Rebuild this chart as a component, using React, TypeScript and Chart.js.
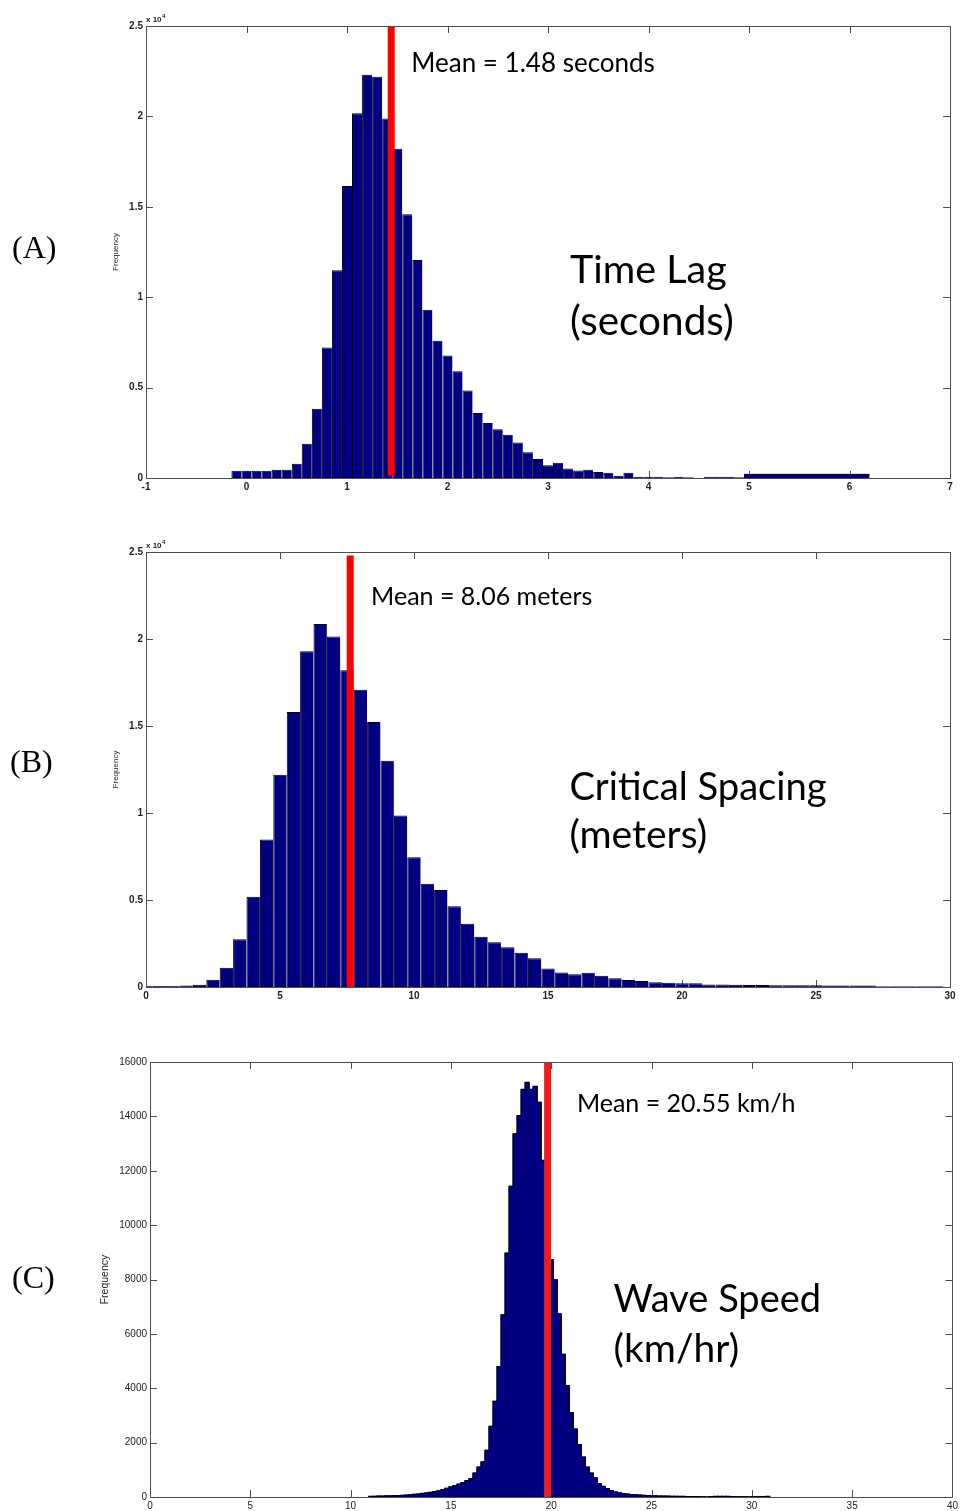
import React, { useEffect, useRef } from 'react';
import { Chart, registerables } from 'chart.js';

Chart.register(...registerables);

// ---------- Panel A: Time Lag (seconds) ----------
const lagBinCenters = [-0.1, 0.0, 0.1, 0.2, 0.3, 0.4, 0.5, 0.6, 0.7, 0.8, 0.9, 1.0, 1.1, 1.2, 1.3, 1.4, 1.5, 1.6, 1.7, 1.8, 1.9, 2.0, 2.1, 2.2, 2.3, 2.4, 2.5, 2.6, 2.7, 2.8, 2.9, 3.0, 3.1, 3.2, 3.3, 3.4, 3.5, 3.6, 3.7, 3.8, 3.9, 4.0, 4.1, 4.2, 4.3, 4.4, 4.5, 4.6, 4.7, 4.8, 4.9];
const lagCounts = [400, 400, 400, 400, 460, 460, 790, 1900, 3830, 7220, 11490, 16150, 20180, 22300, 22190, 19890, 18210, 14590, 12060, 9300, 7590, 6780, 5910, 4840, 3590, 3040, 2690, 2390, 1970, 1420, 1050, 700, 850, 530, 420, 460, 330, 290, 130, 290, 70, 70, 70, 40, 70, 40, 0, 70, 70, 70, 40];
const lagTailEdges = [4.95, 6.2];
const lagTailCount = 200;
const lagMeanLineX = 1.44;
const lagMeanLabel = 'Mean = 1.48 seconds';
const lagTitle = ['Time Lag', '(seconds)'];

// ---------- Panel B: Critical Spacing (meters) ----------
const spacingBinCenters = [0.0, 0.5, 1.0, 1.5, 2.0, 2.5, 3.0, 3.5, 4.0, 4.5, 5.0, 5.5, 6.0, 6.5, 7.0, 7.5, 8.0, 8.5, 9.0, 9.5, 10.0, 10.5, 11.0, 11.5, 12.0, 12.5, 13.0, 13.5, 14.0, 14.5, 15.0, 15.5, 16.0, 16.5, 17.0, 17.5, 18.0, 18.5, 19.0, 19.5, 20.0, 20.5, 21.0, 21.5, 22.0, 22.5, 23.0, 23.5, 24.0, 24.5, 25.0, 25.5, 26.0, 26.5, 27.0, 27.5, 28.0, 28.5, 29.0, 29.5];
const spacingCounts = [60, 60, 60, 80, 130, 420, 1110, 2740, 5190, 8470, 12200, 15800, 19290, 20860, 20150, 18200, 17090, 15230, 13010, 9850, 7450, 5940, 5570, 4640, 3640, 2890, 2570, 2280, 1970, 1650, 1070, 840, 730, 820, 650, 500, 400, 340, 270, 250, 210, 210, 150, 150, 130, 110, 110, 100, 100, 100, 100, 90, 90, 90, 90, 50, 50, 50, 50, 50];
const spacingMeanLineX = 7.62;
const spacingMeanLabel = 'Mean = 8.06 meters';
const spacingTitle = ['Critical Spacing', '(meters)'];

// ---------- Panel C: Wave Speed (km/hr) ----------
const speedBinCenters = [11.0, 11.2, 11.4, 11.6, 11.8, 12.0, 12.2, 12.4, 12.6, 12.8, 13.0, 13.2, 13.4, 13.6, 13.8, 14.0, 14.2, 14.4, 14.6, 14.8, 15.0, 15.2, 15.4, 15.6, 15.8, 16.0, 16.2, 16.4, 16.6, 16.8, 17.0, 17.2, 17.4, 17.6, 17.8, 18.0, 18.2, 18.4, 18.6, 18.8, 19.0, 19.2, 19.4, 19.6, 19.8, 20.0, 20.2, 20.4, 20.6, 20.8, 21.0, 21.2, 21.4, 21.6, 21.8, 22.0, 22.2, 22.4, 22.6, 22.8, 23.0, 23.2, 23.4, 23.6, 23.8, 24.0, 24.2, 24.4, 24.6, 24.8, 25.0, 25.2, 25.4, 25.6, 25.8, 26.0, 26.2, 26.4, 26.6, 26.8, 27.0, 27.2, 27.4, 27.6, 28.0, 28.2, 28.4, 28.6, 28.8, 29.0, 30.8];
const speedCounts = [20, 25, 30, 30, 40, 40, 50, 50, 60, 70, 80, 100, 110, 130, 150, 170, 200, 230, 270, 320, 370, 420, 470, 530, 600, 680, 880, 1100, 1290, 1720, 2600, 3520, 4800, 6700, 8970, 11430, 13360, 14030, 14990, 15250, 14990, 15100, 14520, 12380, 10500, 8730, 7990, 6740, 5250, 4100, 3100, 2500, 1930, 1470, 1100, 880, 700, 490, 390, 310, 235, 185, 150, 125, 110, 90, 80, 70, 60, 50, 55, 40, 35, 30, 30, 25, 25, 20, 20, 15, 15, 15, 10, 10, 15, 20, 20, 20, 20, 15, 20];
const speedMeanLineX = 19.82;
const speedMeanLabel = 'Mean = 20.55 km/h';
const speedTitle = ['Wave Speed', '(km/hr)'];

const NAVY = '#000080';
const FRAME = '#4d4d4d';
const LABEL_FONT = 'Lato, "Open Sans", sans-serif';

const matlabFrame = {
  id: 'matlabFrame',
  beforeDatasetsDraw(chart: any, _args: any, o: any) {
    const { ctx, chartArea: a, scales } = chart;
    const x = scales.x;
    const y = scales.y;
    const L = o.tickLen;
    ctx.save();
    ctx.strokeStyle = FRAME;
    ctx.lineWidth = 1;
    ctx.beginPath();
    for (const t of x.ticks) {
      const px = Math.round(x.getPixelForValue(t.value)) + 0.5;
      if (px <= a.left + 1 || px >= a.right - 1) continue;
      ctx.moveTo(px, a.bottom);
      ctx.lineTo(px, a.bottom - L);
      ctx.moveTo(px, a.top);
      ctx.lineTo(px, a.top + L);
    }
    for (const t of y.ticks) {
      const py = Math.round(y.getPixelForValue(t.value)) + 0.5;
      if (py <= a.top + 1 || py >= a.bottom - 1) continue;
      ctx.moveTo(a.left, py);
      ctx.lineTo(a.left + L, py);
      ctx.moveTo(a.right, py);
      ctx.lineTo(a.right - L, py);
    }
    ctx.stroke();
    ctx.restore();
  },
  afterDatasetsDraw(chart: any) {
    const { ctx, chartArea: a } = chart;
    ctx.save();
    ctx.strokeStyle = FRAME;
    ctx.lineWidth = 1;
    ctx.strokeRect(Math.round(a.left) + 0.5, Math.round(a.top) + 0.5, Math.round(a.right - a.left), Math.round(a.bottom - a.top));
    ctx.restore();
  },
  afterDraw(chart: any, _args: any, o: any) {
    const { ctx, chartArea: a, scales } = chart;
    ctx.save();
    ctx.fillStyle = '#000';
    ctx.textAlign = 'left';
    ctx.textBaseline = 'alphabetic';
    for (const t of o.texts || []) {
      ctx.font = `${t.size}px ${LABEL_FONT}`;
      ctx.fillText(t.text, scales.x.getPixelForValue(t.x), scales.y.getPixelForValue(t.y));
    }
    if (o.panel) {
      ctx.font = `${o.panel.size}px "Liberation Serif", "Times New Roman", serif`;
      ctx.fillText(o.panel.text, a.left + o.panel.dx, (a.top + a.bottom) / 2 + o.panel.dy);
    }
    if (o.exponent) {
      ctx.fillStyle = '#222';
      ctx.font = 'bold 8px "Liberation Sans", Arial, sans-serif';
      ctx.fillText('x 10', a.left, a.top - 4);
      const w = ctx.measureText('x 10').width;
      ctx.font = 'bold 6px "Liberation Sans", Arial, sans-serif';
      ctx.fillText(o.exponent, a.left + w + 0.5, a.top - 8);
    }
    ctx.restore();
  },
};

type PanelProps = {
  top: number;
  height: number;
  pad: { left: number; right: number; top: number; bottom: number };
  yAxisWidth: number;
  xAxisHeight: number;
  centers: number[];
  counts: number[];
  tail?: { edges: number[]; count: number };
  stepOutline?: boolean;
  meanX: number;
  meanRange: number[];
  meanColor: string;
  xMin: number;
  xMax: number;
  xStep: number;
  yMax: number;
  yStep: number;
  yDivisor: number;
  exponent?: string;
  tickFont: any;
  titleSize: number;
  titlePad: number;
  barBorder: any;
  inflate: number;
  texts: any[];
  panel: any;
};

function HistPanel(p: PanelProps) {
  const ref = useRef<HTMLCanvasElement | null>(null);
  useEffect(() => {
    const canvas = ref.current;
    if (!canvas) return;
    const points = p.centers.map((c, i) => ({ x: c, y: p.counts[i] }));
    const datasets: any[] = [
      {
        type: 'line',
        order: 0,
        data: [
          { x: p.meanX, y: p.meanRange[0] },
          { x: p.meanX, y: p.meanRange[1] },
        ],
        borderColor: p.meanColor,
        borderWidth: 7,
        borderCapStyle: 'butt',
        pointRadius: 0,
        fill: false,
      },
    ];
    if (p.tail) {
      datasets.push({
        type: 'line',
        order: 1,
        data: [
          { x: p.tail.edges[0], y: p.tail.count },
          { x: p.tail.edges[1], y: p.tail.count },
        ],
        borderColor: '#000',
        borderWidth: 1,
        backgroundColor: NAVY,
        pointRadius: 0,
        fill: 'origin',
      });
    }
    if (p.stepOutline) {
      datasets.push({
        type: 'line',
        order: 1,
        data: points,
        stepped: 'middle',
        borderColor: '#000',
        borderWidth: 1,
        pointRadius: 0,
        fill: false,
      });
    }
    datasets.push({
      type: 'bar',
      order: 2,
      data: points,
      backgroundColor: NAVY,
      borderColor: '#000',
      borderWidth: p.barBorder,
      borderSkipped: false,
      inflateAmount: p.inflate,
      barPercentage: 1,
      categoryPercentage: 1,
      grouped: false,
    });
    const chart = new Chart(canvas, {
      type: 'bar',
      data: { datasets },
      plugins: [matlabFrame],
      options: {
        animation: false,
        responsive: false,
        devicePixelRatio: 1,
        events: [],
        layout: { padding: p.pad },
        plugins: {
          legend: { display: false },
          tooltip: { enabled: false },
          matlabFrame: { tickLen: 7, texts: p.texts, panel: p.panel, exponent: p.exponent },
        } as any,
        scales: {
          x: {
            type: 'linear',
            offset: false,
            min: p.xMin,
            max: p.xMax,
            grid: { display: false, drawTicks: false },
            border: { display: false },
            ticks: {
              stepSize: p.xStep,
              autoSkip: false,
              maxRotation: 0,
              padding: 3,
              color: '#222',
              font: p.tickFont,
              callback: (v: any) => String(v),
            },
            afterFit: (s: any) => {
              s.height = p.xAxisHeight;
            },
          },
          y: {
            type: 'linear',
            min: 0,
            max: p.yMax,
            grid: { display: false, drawTicks: false },
            border: { display: false },
            ticks: {
              stepSize: p.yStep,
              padding: 3,
              color: '#222',
              font: p.tickFont,
              callback: (v: any) => String(Number(v) / p.yDivisor),
            },
            title: {
              display: true,
              text: 'Frequency',
              color: '#222',
              font: { family: '"Liberation Sans", Arial, sans-serif', size: p.titleSize },
              padding: { top: p.titlePad, bottom: 0 },
            },
            afterFit: (s: any) => {
              s.width = p.yAxisWidth;
            },
          },
        } as any,
      },
    } as any);
    return () => chart.destroy();
  }, []);
  return (
    <canvas
      ref={ref}
      width={961}
      height={p.height}
      style={{ position: 'absolute', left: 0, top: p.top, width: 961, height: p.height }}
    />
  );
}

const boldTick = { family: '"Liberation Sans", Arial, sans-serif', size: 10, weight: 'bold' };
const plainTick = { family: '"Liberation Sans", Arial, sans-serif', size: 10 };

export default function App() {
  useEffect(() => {
    document.body.style.margin = '0';
    document.body.style.background = '#fff';
  }, []);
  return (
    <div style={{ position: 'absolute', left: 0, top: 0, width: 961, height: 1511, background: '#fff', overflow: 'hidden' }}>
      <HistPanel
        top={0}
        height={500}
        pad={{ left: 105, right: 11, top: 26, bottom: 0 }}
        yAxisWidth={41}
        xAxisHeight={22}
        centers={lagBinCenters}
        counts={lagCounts}
        tail={{ edges: lagTailEdges, count: lagTailCount }}
        meanX={lagMeanLineX}
        meanRange={[120, 25000]}
        meanColor="#ff0000"
        xMin={-1}
        xMax={7}
        xStep={1}
        yMax={25000}
        yStep={5000}
        yDivisor={10000}
        exponent="4"
        tickFont={boldTick}
        titleSize={8}
        titlePad={6}
        barBorder={{ top: 1, left: 1, right: 0, bottom: 0 }}
        inflate={0}
        texts={[
          { text: lagMeanLabel, x: 1.64, y: 22450, size: 26 },
          { text: lagTitle[0], x: 3.22, y: 10790, size: 39.5 },
          { text: lagTitle[1], x: 3.22, y: 7920, size: 40.5 },
        ]}
        panel={{ text: '(A)', size: 32, dx: -134, dy: 6 }}
      />
      <HistPanel
        top={500}
        height={520}
        pad={{ left: 105, right: 11, top: 52, bottom: 0 }}
        yAxisWidth={41}
        xAxisHeight={33}
        centers={spacingBinCenters}
        counts={spacingCounts}
        meanX={spacingMeanLineX}
        meanRange={[0, 24800]}
        meanColor="#ff0000"
        xMin={0}
        xMax={30}
        xStep={5}
        yMax={25000}
        yStep={5000}
        yDivisor={10000}
        exponent="4"
        tickFont={boldTick}
        titleSize={8}
        titlePad={6}
        barBorder={{ top: 1, left: 1, right: 0, bottom: 0 }}
        inflate={0}
        texts={[
          { text: spacingMeanLabel, x: 8.4, y: 21940, size: 25 },
          { text: spacingTitle[0], x: 15.8, y: 10730, size: 38.2 },
          { text: spacingTitle[1], x: 15.8, y: 7970, size: 39 },
        ]}
        panel={{ text: '(B)', size: 32, dx: -136, dy: 2 }}
      />
      <HistPanel
        top={1020}
        height={491}
        pad={{ left: 90, right: 6, top: 42, bottom: 0 }}
        yAxisWidth={60}
        xAxisHeight={14}
        centers={speedBinCenters}
        counts={speedCounts}
        stepOutline={true}
        meanX={speedMeanLineX}
        meanRange={[0, 16000]}
        meanColor="#f01c1c"
        xMin={0}
        xMax={40}
        xStep={5}
        yMax={16000}
        yStep={2000}
        yDivisor={1}
        tickFont={plainTick}
        titleSize={10.5}
        titlePad={9}
        barBorder={0}
        inflate={0.6}
        texts={[
          { text: speedMeanLabel, x: 21.28, y: 14178, size: 25 },
          { text: speedTitle[0], x: 23.11, y: 6800, size: 38 },
          { text: speedTitle[1], x: 23.11, y: 4963, size: 39 },
        ]}
        panel={{ text: '(C)', size: 32, dx: -138, dy: 8 }}
      />
    </div>
  );
}
